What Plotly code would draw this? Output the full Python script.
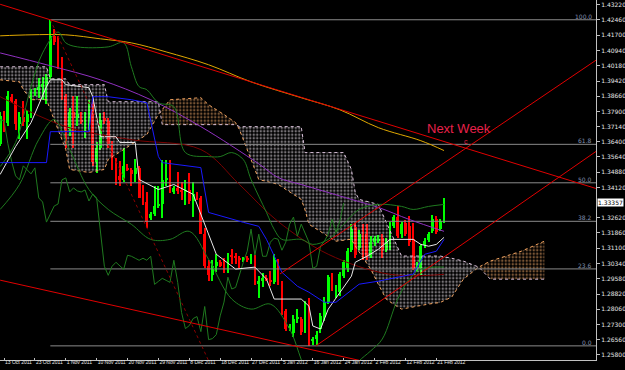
import plotly.graph_objects as go

# ---------------- data (bar index, prices) ----------------
bar_idx = list(range(-1, 115))
opens = [1.3630, 1.3770, 1.3735, 1.3865, 1.3845, 1.3730, 1.3765, 1.3740, 1.3780, 1.3880,
         1.3895, 1.3910, 1.3920, 1.3960, 1.4165, 1.4150, 1.4010, 1.3870, 1.3705, 1.3790,
         1.3760, 1.3750, 1.3740, 1.3770, 1.3830, 1.3540, 1.3610, 1.3760, 1.3745, 1.3630,
         1.3540, 1.3470, 1.3450, 1.3510, 1.3500, 1.3480, 1.3510, 1.3360, 1.3340, 1.3260,
         1.3280, 1.3320, 1.3330, 1.3450, 1.3460, 1.3390, 1.3410, 1.3395, 1.3390, 1.3400,
         1.3345, 1.3370, 1.3360, 1.3180, 1.3020, 1.2975, 1.3020, 1.3040, 1.3020, 1.3005,
         1.3075, 1.3070, 1.3060, 1.3055, 1.3060, 1.3050, 1.3070, 1.2930, 1.2945, 1.2960,
         1.2950, 1.2940, 1.3050, 1.2940, 1.2798, 1.2715, 1.2690, 1.2760, 1.2760, 1.2694,
         1.2790, 1.2650, 1.2660, 1.2708, 1.2768, 1.2842, 1.2966, 1.2880, 1.2890, 1.2970,
         1.3010, 1.3100, 1.3215, 1.3110, 1.3200, 1.3180, 1.3070, 1.3140, 1.3150, 1.3160,
         1.3100, 1.3115, 1.3220, 1.3265, 1.3180, 1.3235, 1.3220, 1.3155, 1.3010, 1.3010,
         1.3125, 1.3150, 1.3195, 1.3254, 1.3205, 1.3244]
highs = [1.3790, 1.3795, 1.3890, 1.3880, 1.3855, 1.3790, 1.3845, 1.3800, 1.3900, 1.3905,
         1.3955, 1.3960, 1.3975, 1.4247, 1.4200, 1.4165, 1.4060, 1.3880, 1.3810, 1.3870,
         1.3870, 1.3790, 1.3790, 1.3850, 1.3850, 1.3640, 1.3785, 1.3790, 1.3760, 1.3645,
         1.3560, 1.3545, 1.3610, 1.3530, 1.3510, 1.3555, 1.3520, 1.3425, 1.3390, 1.3290,
         1.3420, 1.3420, 1.3550, 1.3550, 1.3550, 1.3420, 1.3490, 1.3440, 1.3450, 1.3485,
         1.3440, 1.3390, 1.3370, 1.3210, 1.3050, 1.3050, 1.3080, 1.3050, 1.3060, 1.3085,
         1.3105, 1.3085, 1.3070, 1.3065, 1.3070, 1.3080, 1.3075, 1.2970, 1.2985, 1.2975,
         1.2995, 1.3080, 1.3055, 1.2945, 1.2810, 1.2735, 1.2780, 1.2810, 1.2770, 1.2845,
         1.2860, 1.2670, 1.2700, 1.2790, 1.2865, 1.2975, 1.2985, 1.2925, 1.2990, 1.3050,
         1.3110, 1.3230, 1.3235, 1.3200, 1.3230, 1.3230, 1.3170, 1.3170, 1.3175, 1.3180,
         1.3160, 1.3240, 1.3275, 1.3320, 1.3240, 1.3250, 1.3270, 1.3235, 1.3040, 1.3130,
         1.3160, 1.3190, 1.3275, 1.3270, 1.3255, 1.3360]
lows = [1.3620, 1.3690, 1.3720, 1.3835, 1.3700, 1.3655, 1.3720, 1.3655, 1.3760, 1.3870,
        1.3860, 1.3850, 1.3830, 1.3950, 1.4120, 1.4000, 1.3850, 1.3610, 1.3670, 1.3610,
        1.3720, 1.3730, 1.3660, 1.3700, 1.3520, 1.3485, 1.3600, 1.3730, 1.3610, 1.3500,
        1.3425, 1.3420, 1.3440, 1.3495, 1.3420, 1.3440, 1.3360, 1.3325, 1.3210, 1.3250,
        1.3270, 1.3310, 1.3260, 1.3420, 1.3385, 1.3380, 1.3380, 1.3350, 1.3325, 1.3330,
        1.3265, 1.3350, 1.3180, 1.3010, 1.2945, 1.2945, 1.2990, 1.3015, 1.2985, 1.2985,
        1.3030, 1.3030, 1.3010, 1.3040, 1.3040, 1.3030, 1.2925, 1.2860, 1.2915, 1.2945,
        1.2920, 1.2930, 1.2925, 1.2780, 1.2700, 1.2700, 1.2670, 1.2740, 1.2680, 1.2690,
        1.2624, 1.2628, 1.2630, 1.2690, 1.2750, 1.2830, 1.2895, 1.2860, 1.2870, 1.2960,
        1.2990, 1.3090, 1.3060, 1.3100, 1.3050, 1.3050, 1.3060, 1.3120, 1.3135, 1.3060,
        1.3090, 1.3100, 1.3210, 1.3160, 1.3160, 1.3170, 1.3120, 1.3000, 1.2990, 1.2975,
        1.3110, 1.3140, 1.3185, 1.3180, 1.3195, 1.3235]
closes = [1.3770, 1.3735, 1.3870, 1.3845, 1.3730, 1.3765, 1.3740, 1.3780, 1.3885, 1.3895,
          1.3910, 1.3925, 1.3960, 1.4165, 1.4135, 1.4010, 1.3870, 1.3700, 1.3790, 1.3760,
          1.3780, 1.3740, 1.3770, 1.3830, 1.3540, 1.3610, 1.3750, 1.3745, 1.3630, 1.3540,
          1.3470, 1.3450, 1.3520, 1.3500, 1.3480, 1.3510, 1.3360, 1.3340, 1.3240, 1.3280,
          1.3320, 1.3330, 1.3450, 1.3460, 1.3390, 1.3410, 1.3395, 1.3390, 1.3400, 1.3345,
          1.3380, 1.3360, 1.3180, 1.3020, 1.2975, 1.3020, 1.3040, 1.3020, 1.3005, 1.3075,
          1.3070, 1.3060, 1.3050, 1.3060, 1.3050, 1.3070, 1.2930, 1.2945, 1.2960, 1.2950,
          1.2940, 1.3050, 1.2940, 1.2790, 1.2710, 1.2725, 1.2760, 1.2770, 1.2695, 1.2820,
          1.2655, 1.2660, 1.2680, 1.2773, 1.2842, 1.2966, 1.2907, 1.2915, 1.2980, 1.3040,
          1.3095, 1.3205, 1.3075, 1.3180, 1.3070, 1.3070, 1.3140, 1.3160, 1.3155, 1.3100,
          1.3140, 1.3230, 1.3265, 1.3170, 1.3230, 1.3180, 1.3140, 1.3010, 1.3020, 1.3120,
          1.3145, 1.3180, 1.3254, 1.3190, 1.3244, 1.33357]

date_tick_bars = [0, 8, 16, 24, 32, 40, 48, 56, 64, 72, 80, 88, 96, 104, 112]
date_labels = ["13 Oct 2011", "23 Oct 2011", "1 Nov 2011", "10 Nov 2011", "20 Nov 2011",
               "29 Nov 2011", "8 Dec 2011", "18 Dec 2011", "27 Dec 2011", "5 Jan 2012",
               "16 Jan 2012", "24 Jan 2012", "2 Feb 2012", "12 Feb 2012", "21 Feb 2012"]
price_ticks = [1.4322, 1.4246, 1.4170, 1.4094, 1.4018, 1.3942, 1.3866, 1.3790, 1.3714,
               1.3640, 1.3564, 1.3488, 1.3412, 1.3262, 1.3186, 1.3110, 1.3034,
               1.2958, 1.2882, 1.2806, 1.2730, 1.2656, 1.2580]

# Fibonacci retracement (from 27 Oct high to Jan low)
fib_start_bar = 12
fib_high = 1.4247
fib_low = 1.2624
fib_levels = [0.0, 23.6, 38.2, 50.0, 61.8, 100.0]

# Ichimoku cloud spans (bar, Senkou A, Senkou B)
cloud_bars = [-1, 4, 5, 7, 11, 12, 16, 17, 22, 26, 27, 33, 37, 40, 41, 43, 51, 53, 57, 60,
              61, 62, 66, 71, 77, 78, 79, 86, 88, 90, 91, 92, 95, 97, 99, 101, 103, 110,
              113, 116, 119, 123, 126, 134, 140]
span_a = [1.3948, 1.3938, 1.3899, 1.3849, 1.3849, 1.3800, 1.3601, 1.3502, 1.3487, 1.3502,
          1.3552, 1.3626, 1.3676, 1.3775, 1.3800, 1.3849, 1.3859, 1.3824, 1.3775, 1.3735,
          1.3700, 1.3651, 1.3452, 1.3428, 1.3353, 1.3300, 1.3229, 1.3145, 1.3150, 1.3155,
          1.3120, 1.3090, 1.3006, 1.2930, 1.2857, 1.2830, 1.2807, 1.2832, 1.2840, 1.2867,
          1.2956, 1.3016, 1.3046, 1.3095, 1.3145]
span_b = [1.4013, 1.4013, 1.4013, 1.4013, 1.4013, 1.3953, 1.3953, 1.3924, 1.3924, 1.3924,
          1.3839, 1.3839, 1.3839, 1.3839, 1.3725, 1.3725, 1.3725, 1.3725, 1.3725, 1.3725,
          1.3715, 1.3715, 1.3715, 1.3715, 1.3715, 1.3586, 1.3586, 1.3586, 1.3586, 1.3502,
          1.3388, 1.3353, 1.3340, 1.3328, 1.3240, 1.3155, 1.3071, 1.3071, 1.3071, 1.3060,
          1.3046, 1.3016, 1.2956, 1.2956, 1.2956]
chikou_shift = 26

# Tenkan (white) and Kijun (blue)
tenkan_bars = [-1, 3, 7, 11, 12, 15, 16, 22, 23, 25, 29, 30, 34, 35, 40, 44, 49, 52, 55, 60,
               65, 68, 70, 77, 79, 80, 82, 84, 87, 90, 91, 94, 97, 100, 106, 108, 110, 112, 114]
tenkan = [1.3477, 1.3616, 1.3735, 1.3914, 1.3948, 1.3948, 1.3924, 1.3909, 1.3864, 1.3665,
          1.3665, 1.3636, 1.3636, 1.3452, 1.3402, 1.3427, 1.3378, 1.3229, 1.3080, 1.3006,
          1.3016, 1.2956, 1.2857, 1.2857, 1.2822, 1.2723, 1.2708, 1.2807, 1.2891, 1.2971,
          1.3040, 1.3070, 1.3105, 1.3154, 1.3154, 1.3129, 1.3120, 1.3129, 1.3164]
kijun_bars = [-1, 11, 12, 22, 23, 27, 33, 37, 40, 41, 51, 53, 62, 66, 68, 72, 76, 79, 83, 86,
              92, 97, 106, 109, 112, 114]
kijun = [1.3536, 1.3536, 1.3690, 1.3690, 1.3864, 1.3864, 1.3849, 1.3834, 1.3566, 1.3536,
         1.3511, 1.3288, 1.3239, 1.3219, 1.3154, 1.2990, 1.2921, 1.2891, 1.2841, 1.2841,
         1.2931, 1.2946, 1.2981, 1.3080, 1.3095, 1.3154]

# Moving averages
ma_gold_bars = [-1, 7, 16, 25, 33, 42, 53, 64, 77, 87, 97, 108, 114]
ma_gold = [1.4167, 1.4172, 1.4172, 1.4152, 1.4132, 1.4087, 1.4023, 1.3938, 1.3859, 1.3799,
           1.3710, 1.3645, 1.3596]
ma_purple_bars = [-1, 12, 25, 38, 51, 66, 71, 77, 90, 97, 105, 114]
ma_purple = [1.4082, 1.4018, 1.3948, 1.3849, 1.3715, 1.3530, 1.3462, 1.3427, 1.3353, 1.3313,
             1.3253, 1.3194]
ma_maroon_bars = [-1, 16, 33, 51, 61, 71, 84, 100, 114]
ma_maroon = [1.3864, 1.3715, 1.3650, 1.3601, 1.3427, 1.3243, 1.3080, 1.2980, 1.2980]

# Bollinger bands (dark green)
bb_up_bars = [-1, 3, 7, 10, 14, 16, 19, 27, 31, 33, 35, 37, 40, 44, 47, 53, 56, 59, 62, 64,
              68, 70, 72, 77, 80, 84, 88, 92, 97, 103, 106, 110, 114]
bb_up = [1.3516, 1.3636, 1.3914, 1.4082, 1.4186, 1.4132, 1.4112, 1.4112, 1.4132, 1.4013,
         1.3914, 1.3899, 1.3834, 1.3814, 1.3586, 1.3566, 1.3566, 1.3586, 1.3551, 1.3452,
         1.3288, 1.3204, 1.3154, 1.3154, 1.3129, 1.3154, 1.3229, 1.3303, 1.3328, 1.3318,
         1.3303, 1.3318, 1.3328]
bb_low_bars = [-1, 4, 9, 13, 17, 22, 27, 33, 38, 43, 48, 53, 59, 64, 69, 74, 79, 84, 90, 92,
               95, 98, 102, 105, 108, 114]
bb_low = [1.3303, 1.3427, 1.3651, 1.3750, 1.3601, 1.3402, 1.3303, 1.3229, 1.3154, 1.3154,
          1.3194, 1.3055, 1.2857, 1.2807, 1.2832, 1.2708, 1.2484, 1.2435, 1.2499, 1.2549,
          1.2599, 1.2658, 1.2857, 1.2956, 1.3006, 1.3016]

# Hand-drawn trend lines (bar, price anchors)
trend_down_upper = ([-1, 153.4], [1.4324, 1.3407])
trend_down_lower = ([-1, 92], [1.2951, 1.2552])
trend_up_upper = ([71.5, 153.4], [1.2982, 1.4046])
trend_up_lower = ([80.8, 153.4], [1.2624, 1.3592])
trend_peak_dotted = ([12, 53], [1.4247, 1.2550])

# ---------------- figure ----------------
fig = go.Figure()

def cloud_segments(xs, a, b):
    segs = []
    cx, ca, cb = [xs[0]], [a[0]], [b[0]]
    sign = a[0] >= b[0]
    for i in range(1, len(xs)):
        s = a[i] >= b[i]
        if s != sign:
            d0 = a[i - 1] - b[i - 1]
            d1 = a[i] - b[i]
            t = d0 / (d0 - d1) if d0 != d1 else 1.0
            xc = xs[i - 1] + t * (xs[i] - xs[i - 1])
            yc = a[i - 1] + t * (a[i] - a[i - 1])
            cx.append(xc); ca.append(yc); cb.append(yc)
            segs.append((cx, ca, cb, sign))
            cx, ca, cb = [xc], [yc], [yc]
            sign = s
        cx.append(xs[i]); ca.append(a[i]); cb.append(b[i])
    segs.append((cx, ca, cb, sign))
    return segs

for cx, ca, cb, bull in cloud_segments(cloud_bars, span_a, span_b):
    col = "#f0a868" if bull else "#ece4ec"
    fig.add_trace(go.Scatter(
        x=cx + cx[::-1], y=ca + cb[::-1], mode="none", fill="toself",
        fillcolor="rgba(0,0,0,0)",
        fillpattern=dict(shape=".", fgcolor=col, bgcolor="rgba(0,0,0,0)", size=3.5, solidity=0.4),
        hoverinfo="skip"))

fig.add_trace(go.Scatter(x=cloud_bars, y=span_a, mode="lines",
                         line=dict(color="#f4a460", width=1, dash="dot")))
fig.add_trace(go.Scatter(x=cloud_bars, y=span_b, mode="lines",
                         line=dict(color="#d8bfd8", width=1, dash="dot")))

# Fibonacci levels
fib_prices = [fib_low + (fib_high - fib_low) * lv / 100.0 for lv in fib_levels]
for lv, p in zip(fib_levels, fib_prices):
    fig.add_trace(go.Scatter(x=[fib_start_bar, 153.4], y=[p, p], mode="lines",
                             line=dict(color="#8a8a8a", width=1)))
    fig.add_annotation(x=1, xref="paper", xanchor="right", xshift=-2, y=p, yref="y",
                       yanchor="bottom", yshift=-2, text=f"{lv:.1f}", showarrow=False,
                       font=dict(size=6, color="#8090b0"))

# Moving averages
fig.add_trace(go.Scatter(x=ma_gold_bars, y=ma_gold, mode="lines",
                         line=dict(color="#e0a800", width=1, shape="spline")))
fig.add_trace(go.Scatter(x=ma_purple_bars, y=ma_purple, mode="lines",
                         line=dict(color="#9030c0", width=1, shape="spline")))
fig.add_trace(go.Scatter(x=ma_maroon_bars, y=ma_maroon, mode="lines",
                         line=dict(color="#7a0000", width=1, shape="spline")))

# Bollinger bands
fig.add_trace(go.Scatter(x=bb_up_bars, y=bb_up, mode="lines",
                         line=dict(color="#1f7a1f", width=1, shape="spline")))
fig.add_trace(go.Scatter(x=bb_low_bars, y=bb_low, mode="lines",
                         line=dict(color="#1f7a1f", width=1, shape="spline")))

# Chikou span (closes drawn 26 bars back)
fig.add_trace(go.Scatter(x=[b - chikou_shift for b in bar_idx], y=closes, mode="lines",
                         line=dict(color="#1f7a1f", width=1)))

# Tenkan / Kijun
fig.add_trace(go.Scatter(x=tenkan_bars, y=tenkan, mode="lines",
                         line=dict(color="#e8e8e8", width=1)))
fig.add_trace(go.Scatter(x=kijun_bars, y=kijun, mode="lines",
                         line=dict(color="#1a1aff", width=1)))

# Candles (wick + body as bars)
up = [c >= o for o, c in zip(opens, closes)]
cols = ["#00ff00" if u else "#ff0000" for u in up]
fig.add_trace(go.Bar(x=bar_idx, y=[h - l for h, l in zip(highs, lows)], base=lows,
                     width=0.28, marker=dict(color=cols, line=dict(width=0))))
fig.add_trace(go.Bar(x=bar_idx, y=[max(abs(c - o), 0.0002) for o, c in zip(opens, closes)],
                     base=[min(o, c) for o, c in zip(opens, closes)],
                     width=0.72, marker=dict(color=cols, line=dict(width=0))))

# Trend lines
for (tx, ty) in [trend_down_upper, trend_down_lower, trend_up_upper, trend_up_lower]:
    fig.add_trace(go.Scatter(x=tx, y=ty, mode="lines", line=dict(color="#e00000", width=1)))
fig.add_trace(go.Scatter(x=trend_peak_dotted[0], y=trend_peak_dotted[1], mode="lines",
                         line=dict(color="#8b0000", width=1, dash="dot")))

# Text
fig.add_annotation(x=117.9, y=1.3705, text="Next Week", showarrow=False,
                   font=dict(family="Liberation Sans", size=13, color="#e8204a"))
fig.add_annotation(x=119.7, y=1.3640, text="c", showarrow=False, yanchor="middle",
                   font=dict(family="Liberation Sans", size=7, color="#e8204a"))
fig.add_annotation(x=1, xref="paper", xanchor="left", xshift=1, y=closes[-1], yref="y",
                   text=f"{closes[-1]:.5f}", showarrow=False, bgcolor="#ffffff",
                   borderpad=0, font=dict(size=6, color="#000000"))

fig.update_layout(
    width=625, height=370, margin=dict(l=0, r=29, t=0, b=10),
    paper_bgcolor="#000000", plot_bgcolor="#000000", showlegend=False,
    barmode="overlay", bargap=0,
    font=dict(family="DejaVu Sans", size=6, color="#e6e6e6"),
)
fig.update_xaxes(range=[-1.04, 153.37], tickvals=date_tick_bars, ticktext=date_labels,
                 tickangle=0, ticks="inside", ticklen=2, tickcolor="#c0c0c0", showgrid=False,
                 zeroline=False, showline=True, linecolor="#c0c0c0", linewidth=1,
                 ticklabelposition="outside right", ticklabelstandoff=-3,
                 tickfont=dict(family="Liberation Sans", size=5, color="#e6e6e6"),
                 automargin=False, fixedrange=True)
fig.update_yaxes(side="right", range=[1.25537, 1.43453], tickvals=price_ticks,
                 ticktext=[f"{v:.5f}" for v in price_ticks], ticks="outside", ticklen=3,
                 tickcolor="#c0c0c0", showgrid=False, zeroline=False, showline=True,
                 linecolor="#c0c0c0", linewidth=1, tickfont=dict(size=6, color="#e6e6e6"),
                 automargin=False, fixedrange=True)

fig.write_html("out.html")
